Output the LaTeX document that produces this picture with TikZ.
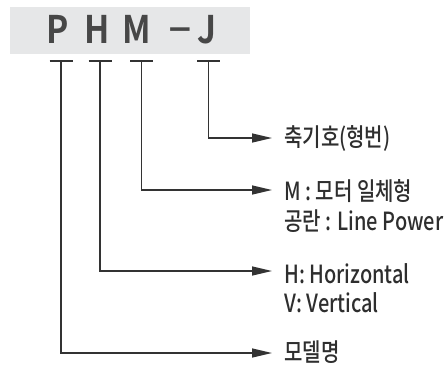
\documentclass[tikz,border=0pt]{standalone}
\usepackage{fontspec}
\setmainfont{Noto Sans CJK KR Medium}[FakeStretch=0.8]
\newfontfamily\codefont{Noto Sans CJK KR Bold}[FakeStretch=0.88]
\usetikzlibrary{arrows.meta}
\definecolor{boxgray}{HTML}{E6E7E8}
\definecolor{codegray}{HTML}{474747}
\definecolor{linegray}{HTML}{333333}
\definecolor{textgray}{HTML}{2E2E2E}
\begin{document}
\begin{tikzpicture}[x=1pt,y=-1pt,
  code/.style={font=\codefont\fontsize{38}{38}\selectfont, text=codegray, inner sep=0pt, anchor=base},
  lab/.style={font=\fontsize{25}{25}\selectfont, text=textgray, inner sep=0pt, anchor=base west},
  tbar/.style={draw=linegray, line width=1.4pt},
  arr/.style={draw=linegray, line width=1.4pt, -{Triangle[length=20pt,width=9pt]}, shorten >=12pt}]
\useasboundingbox (0,0) rectangle (448,368);
\fill[boxgray] (10,7) rectangle (250,54);
\node[code] (cP) at (58,43) {P};
\node[code] (cH) at (97,43) {H};
\node[code] (cM) at (136.5,43) {M};
\node[code, xscale=1.3] (cD) at (180,40) {–};
\node[code] (cJ) at (207,43) {J};
\coordinate (tP) at (61,61);
\coordinate (tH) at (100,61);
\coordinate (tM) at (141.5,61);
\coordinate (tJ) at (208.5,61);
\foreach \t in {tP,tH,tM,tJ}{\draw[tbar] ([xshift=-11.5pt]\t) -- ([xshift=11.5pt]\t);}
\node[lab] (lJ) at (284,146) {축기호(형번)};
\node[lab] (lM) at (284,200) {M : 모터 일체형};
\node[lab] (lM2) at (284,230) {공란 : Line Power};
\node[lab] (lH) at (284,283) {H: Horizontal};
\node[lab] (lH2) at (284,312) {V: Vertical};
\node[lab] (lP) at (284,361) {모델명};
\draw[arr] (tJ) |- ([yshift=8pt]lJ.base west);
\draw[arr] (tM) |- ([yshift=10pt]lM.base west);
\draw[arr] (tH) |- ([yshift=12pt]lH.base west);
\draw[arr] (tP) |- ([yshift=8pt]lP.base west);
\end{tikzpicture}
\end{document}
